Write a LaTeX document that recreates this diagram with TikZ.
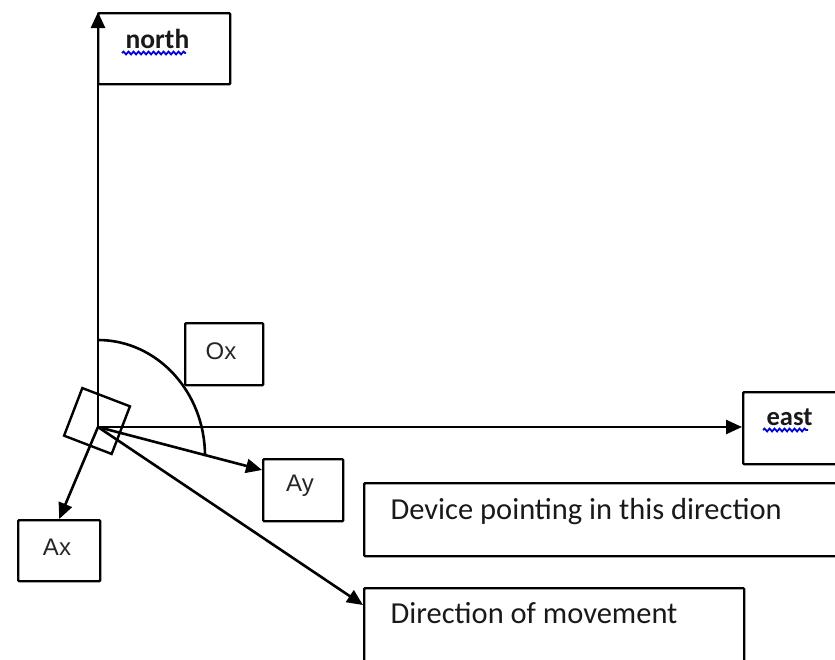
\documentclass[tikz,border=0pt]{standalone}
\usepackage{fontspec}
\setmainfont{Carlito}
\newfontfamily\arialf{Liberation Sans}
\usetikzlibrary{arrows.meta,calc,decorations.pathmorphing}
\begin{document}
\begin{tikzpicture}[x=1pt,y=-1pt, line width=2.6pt,
 box/.style={draw, line width=2.4pt, rounded corners=1pt, inner sep=0pt, anchor=north west},
 arr/.style={-{Triangle[length=16pt,width=14pt]}, line width=2.6pt},
 wavy/.style={draw=blue!85!black, line width=1.8pt, decorate, decoration={snake, amplitude=1.4pt, segment length=5pt}},
 lab/.style={font=\arialf\fontsize{24}{28}\selectfont, text=black!85},
 txt/.style={font=\fontsize{30.5}{36}\selectfont, anchor=base west, text=black!90},
 dir/.style={font=\bfseries\fontsize{27.5}{32}\selectfont, anchor=base west, text=black!90}]
\useasboundingbox (0,0) rectangle (835,659);
\clip (0,0) rectangle (835,659);
% boxes
\node[box, minimum width=132pt, minimum height=71pt] (northbox) at (97,12) {};
\node[box, minimum width=78pt, minimum height=62pt] (oxbox) at (184,322) {};
\node[box, minimum width=128pt, minimum height=72pt] (eastbox) at (742,391) {};
\node[box, minimum width=80pt, minimum height=62pt] (aybox) at (262,458) {};
\node[box, minimum width=82pt, minimum height=61pt] (axbox) at (17,519) {};
\node[box, minimum width=517pt, minimum height=73pt] (devbox) at (363,482) {};
\node[box, minimum width=380pt, minimum height=113pt] (movebox) at (363,587) {};
% texts
\node[dir] (northtxt) at (121,48) {north};
\draw[wavy] (northtxt.base west) ++(1,5) -- ++(64,0);
\node[dir, font=\bfseries\fontsize{26.5}{32}\selectfont] (easttxt) at (762,425) {east};
\draw[wavy] (easttxt.base west) ++(1,5) -- ++(45,0);
\node[lab] (oxtxt) at (221,351) {Ox};
\node[lab] (aytxt) at (300,486) {Ay};
\node[lab] (axtxt) at (57,547) {Ax};
\node[txt] (devtxt) at (386,519) {Device pointing in this direction};
\node[txt] (movetxt) at (386,623) {Direction of movement};
% device
\coordinate (O) at (98,427);
\node[draw, line width=2.4pt, minimum size=51pt, inner sep=0pt, rotate=-21] (device) at (97,421) {};
% angle arc
\draw (98,340) arc[start angle=-90, end angle=0, x radius=107, y radius=116];
% axes and arrows
\draw[arr] (O) -- (O |- northbox.north);
\draw[arr] (O) -- (O -| eastbox.west);
\draw[arr] (O) -- (axbox.north);
\draw[arr] (O) -- ($(aybox.north west)+(0,12)$);
\draw[arr] (O) -- ($(movebox.north west)+(0,18)$);
\end{tikzpicture}
\end{document}
